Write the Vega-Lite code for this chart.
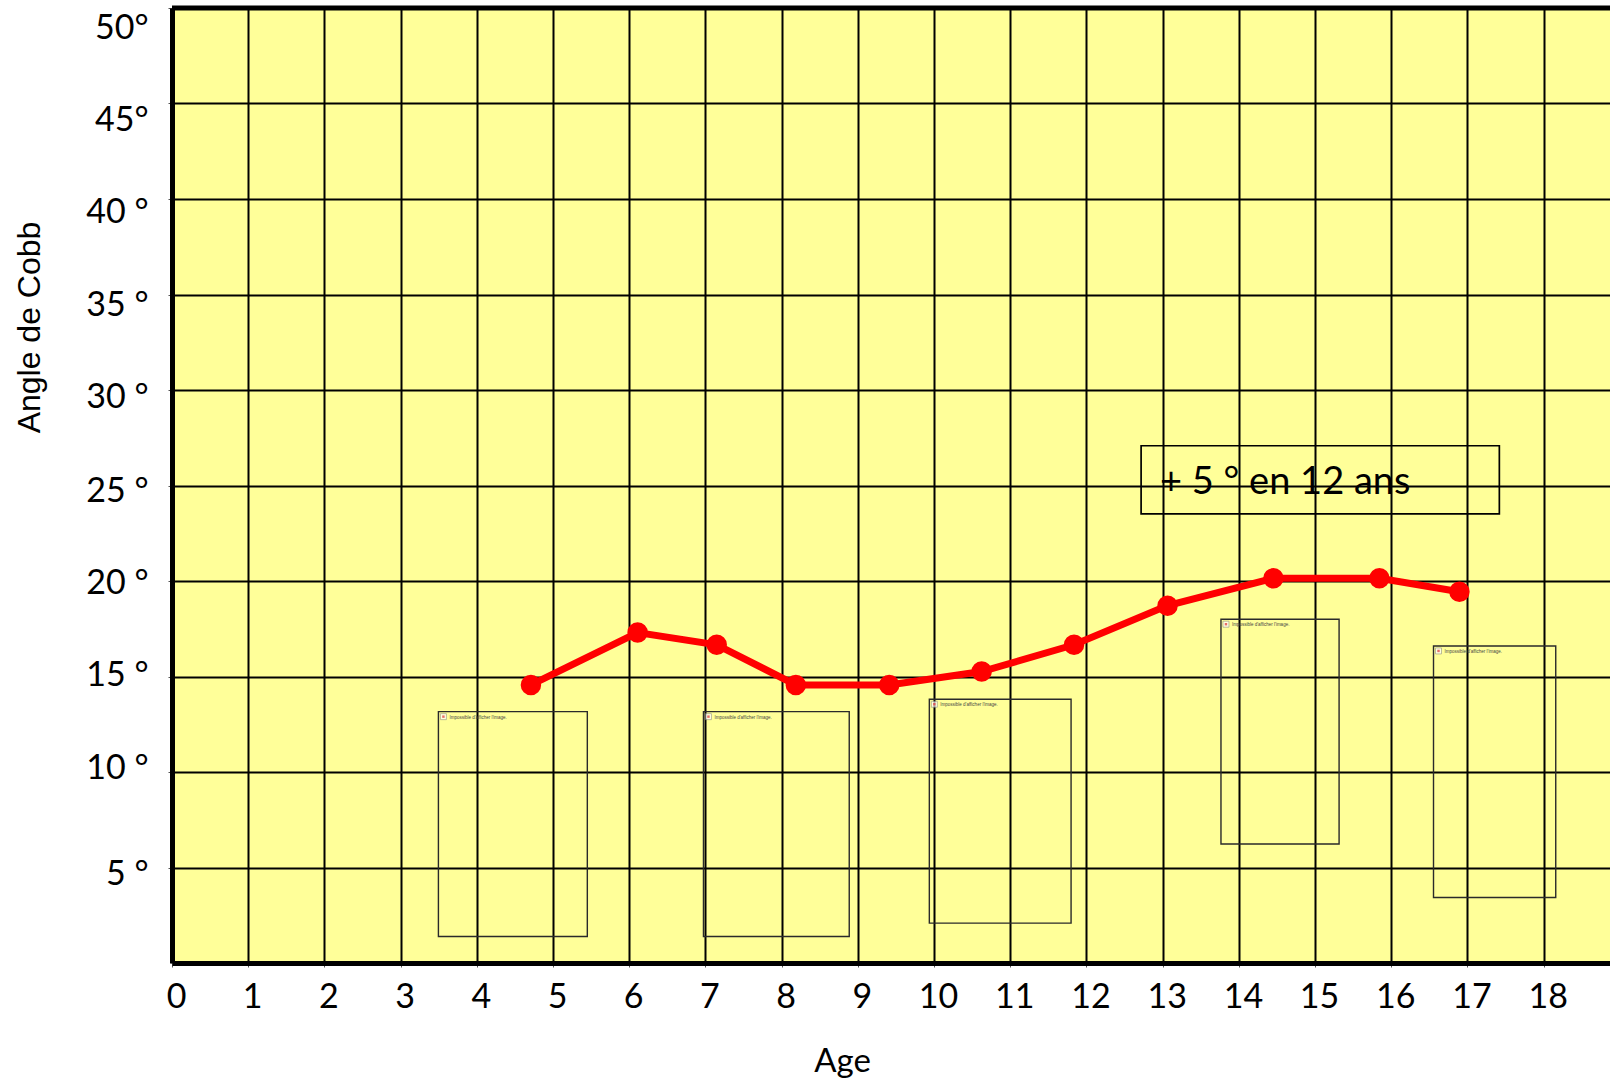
{
  "$schema": "https://vega.github.io/schema/vega-lite/v6.json",
  "width": 1438,
  "height": 955,
  "autosize": {"type": "none"},
  "padding": {"left": 172, "top": 8, "right": 0, "bottom": 119},
  "background": "white",
  "config": {"view": {"fill": "#FFFF99", "stroke": null}},
  "datasets": {
    "cobb": [
      {"age": 4.71, "angle": 14.56},
      {"age": 6.11, "angle": 17.3},
      {"age": 7.148, "angle": 16.66},
      {"age": 8.186, "angle": 14.56},
      {"age": 9.412, "angle": 14.56},
      {"age": 10.625, "angle": 15.26},
      {"age": 11.837, "angle": 16.66},
      {"age": 13.064, "angle": 18.71},
      {"age": 14.453, "angle": 20.14},
      {"age": 15.844, "angle": 20.14},
      {"age": 16.894, "angle": 19.44}
    ],
    "images": [
      {"x": 3.496, "x2": 5.45, "y": 13.16, "y2": 1.39, "msg": "Impossible d'afficher l'image."},
      {"x": 6.974, "x2": 8.887, "y": 13.16, "y2": 1.39, "msg": "Impossible d'afficher l'image."},
      {"x": 9.938, "x2": 11.798, "y": 13.81, "y2": 2.09, "msg": "Impossible d'afficher l'image."},
      {"x": 13.765, "x2": 15.315, "y": 18.0, "y2": 6.23, "msg": "Impossible d'afficher l'image."},
      {"x": 16.554, "x2": 18.158, "y": 16.6, "y2": 3.43, "msg": "Impossible d'afficher l'image."}
    ],
    "note": [
      {"label": "+ 5 ° en 12 ans", "x": 12.717, "x2": 17.418, "y": 27.08, "y2": 23.51, "tx": 12.966, "ty": 24.55}
    ],
    "top": [{"y": 50}]
  },
  "layer": [
    {
      "data": {"name": "images"},
      "mark": {"type": "rect", "fill": null, "stroke": "#2a2a2a", "strokeWidth": 1.4},
      "encoding": {
        "x": {
          "field": "x", "type": "quantitative",
          "scale": {"domain": [0, 18.87], "nice": false, "zero": false},
          "axis": {
            "title": "Age",
            "values": [0,1,2,3,4,5,6,7,8,9,10,11,12,13,14,15,16,17,18],
            "format": "d",
            "grid": true, "gridColor": "black", "gridWidth": 2, "gridOpacity": 1,
            "domainColor": "black", "domainWidth": 5,
            "tickColor": "#555", "tickSize": 4, "tickWidth": 1,
            "labelFont": "Lato", "labelFontSize": 34, "labelColor": "black",
            "labelPadding": 13, "labelOffset": 4, "labelFlush": false, "labelOverlap": false,
            "titleFont": "Lato", "titleFontSize": 33, "titleFontWeight": "normal", "titleColor": "black",
            "titleX": 670, "titleY": 98, "titleBaseline": "middle", "titleAlign": "center"
          }
        },
        "x2": {"field": "x2"},
        "y": {
          "field": "y", "type": "quantitative",
          "scale": {"domain": [0, 50], "nice": false, "zero": true},
          "axis": {
            "title": "Angle de Cobb",
            "values": [5,10,15,20,25,30,35,40,45,50],
            "labelExpr": "datum.value >= 45 ? datum.value + '°' : datum.value + ' °'",
            "grid": true, "gridColor": "black", "gridWidth": 2, "gridOpacity": 1,
            "domainColor": "black", "domainWidth": 5,
            "tickColor": "#555", "tickSize": 4, "tickWidth": 1,
            "labelFont": "Lato", "labelFontSize": 34, "labelColor": "black",
            "labelPadding": 20, "labelFlush": false, "labelOverlap": false,
            "labelOffset": {
              "condition": [
                {"test": "datum.value === 50", "value": 20},
                {"test": "datum.value === 45", "value": 16.5},
                {"test": "datum.value === 40", "value": 13.5},
                {"test": "datum.value === 35", "value": 10.5},
                {"test": "datum.value === 30", "value": 7},
                {"test": "datum.value === 25", "value": 5.5},
                {"test": "datum.value === 20", "value": 2},
                {"test": "datum.value === 15", "value": -1.5},
                {"test": "datum.value === 10", "value": -4},
                {"test": "datum.value === 5", "value": 7}
              ],
              "value": 0
            },
            "titleFont": "Liberation Sans", "titleFontSize": 32, "titleFontWeight": "normal", "titleColor": "black",
            "titleX": -143, "titleY": 319, "titleBaseline": "middle", "titleAlign": "center", "titleAngle": -90
          }
        },
        "y2": {"field": "y2"}
      }
    },
    {
      "data": {"name": "images"},
      "mark": {"type": "point", "shape": "square", "size": 36, "filled": true, "fill": "white", "stroke": "#888", "strokeWidth": 0.8, "xOffset": 5, "yOffset": 5},
      "encoding": {
        "x": {"field": "x", "type": "quantitative"},
        "y": {"field": "y", "type": "quantitative"}
      }
    },
    {
      "data": {"name": "images"},
      "mark": {"type": "point", "shape": "square", "size": 6, "filled": true, "color": "#d33", "xOffset": 5, "yOffset": 5},
      "encoding": {
        "x": {"field": "x", "type": "quantitative"},
        "y": {"field": "y", "type": "quantitative"}
      }
    },
    {
      "data": {"name": "images"},
      "mark": {"type": "text", "align": "left", "baseline": "top", "fontSize": 4.5, "font": "Liberation Sans", "color": "#444", "dx": 11, "dy": 3},
      "encoding": {
        "x": {"field": "x", "type": "quantitative"},
        "y": {"field": "y", "type": "quantitative"},
        "text": {"field": "msg"}
      }
    },
    {
      "data": {"name": "note"},
      "mark": {"type": "rect", "fill": null, "stroke": "black", "strokeWidth": 1.7},
      "encoding": {
        "x": {"field": "x", "type": "quantitative"},
        "x2": {"field": "x2"},
        "y": {"field": "y", "type": "quantitative"},
        "y2": {"field": "y2"}
      }
    },
    {
      "data": {"name": "note"},
      "mark": {"type": "text", "align": "left", "baseline": "alphabetic", "font": "Lato", "fontSize": 38, "color": "black"},
      "encoding": {
        "x": {"field": "tx", "type": "quantitative"},
        "y": {"field": "ty", "type": "quantitative"},
        "text": {"field": "label"}
      }
    },
    {
      "data": {"name": "cobb"},
      "mark": {"type": "line", "color": "#FF0000", "strokeWidth": 7, "point": {"filled": true, "color": "#FF0000", "size": 420, "opacity": 1}},
      "encoding": {
        "x": {"field": "age", "type": "quantitative"},
        "y": {"field": "angle", "type": "quantitative"}
      }
    },
    {
      "data": {"name": "top"},
      "mark": {"type": "rule", "color": "black", "strokeWidth": 5},
      "encoding": {
        "y": {"field": "y", "type": "quantitative"}
      }
    }
  ]
}
